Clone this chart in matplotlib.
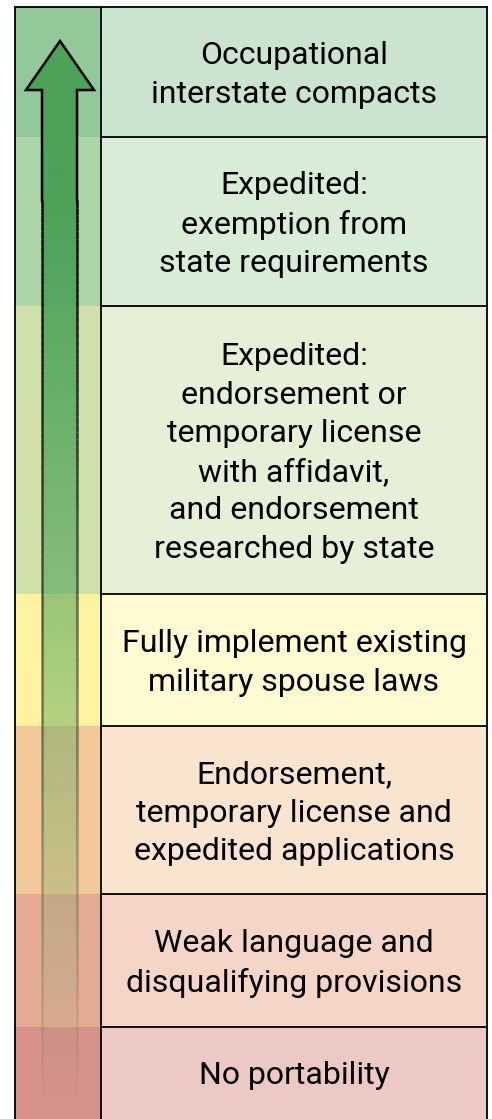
import matplotlib.pyplot as plt
import numpy as np
from matplotlib.patches import Rectangle, Polygon
from matplotlib.collections import LineCollection
from matplotlib.colors import to_rgb

# Tiers from best (top) to worst (bottom)
labels = [
    'Occupational\ninterstate compacts',
    'Expedited:\nexemption from\nstate requirements',
    'Expedited:\nendorsement or\ntemporary license\nwith affidavit,\nand endorsement\nresearched by state',
    'Fully implement existing\nmilitary spouse laws',
    'Endorsement,\ntemporary license and\nexpedited applications',
    'Weak language and\ndisqualifying provisions',
    'No portability',
]
strip_colors = ['#93c89a', '#acd5a8', '#cfe0a8', '#fdf3a0', '#f2c898', '#e4ab94', '#d6918a']
box_colors = ['#cae4d0', '#d8ecd8', '#e6f0d6', '#fefad2', '#f9e4d0', '#f4d5c8', '#ecc9c4']

# layout in pixels
W, H = 492, 1119
row_edges = [7, 137, 306, 594, 726, 894, 1027, 1119]
x_left, x_div, x_right = 15, 101, 487
arrow_color = '#4ca257'

fig = plt.figure(figsize=(W / 100, H / 100), dpi=100)
ax = fig.add_axes([0, 0, 1, 1])
ax.set_xlim(0, W)
ax.set_ylim(H, 0)
ax.axis('off')

for i, lab in enumerate(labels):
    y0, y1 = row_edges[i], row_edges[i + 1]
    ax.add_patch(Rectangle((x_left, y0), x_div - x_left, y1 - y0, color=strip_colors[i], lw=0, zorder=1))
    ax.add_patch(Rectangle((x_div, y0), x_right - x_div, y1 - y0, color=box_colors[i], lw=0, zorder=1))
    if i > 0:
        ax.plot([x_div, x_right], [y0, y0], color='black', lw=1.3, zorder=5)
    ax.text((x_div + x_right) / 2, (y0 + y1) / 2 + 3, lab, ha='center', va='center',
            fontsize=23, family='Roboto', linespacing=1.42, color='black', zorder=6)

# outer frame
ax.plot([x_left, x_left], [H + 5, row_edges[0]], color='black', lw=1.3, zorder=5)
ax.plot([x_left, x_right], [row_edges[0], row_edges[0]], color='black', lw=1.3, zorder=5)
ax.plot([x_right, x_right], [row_edges[0], H + 5], color='black', lw=1.3, zorder=5)
ax.plot([x_div, x_div], [row_edges[0], H + 5], color='black', lw=1.3, zorder=5)

# arrow with fading gradient
sx0, sx1 = 42, 77
hx0, hx1 = 26, 94
tip_y, base_y = 41, 90
tip_x = (hx0 + hx1) / 2
pts = [(sx0, H + 5), (sx0, base_y), (hx0, base_y), (tip_x, tip_y),
       (hx1, base_y), (sx1, base_y), (sx1, H + 5)]


def fade(y):
    return np.clip((1100 - y) / 900, 0, 1)


ys = np.linspace(tip_y, H, 400)
img = np.zeros((len(ys), 2, 4))
img[..., :3] = to_rgb(arrow_color)
img[..., 3] = fade(ys)[:, None]
arrow = Polygon(pts, closed=True, fc='none', ec='none')
ax.add_patch(arrow)
im = ax.imshow(img, extent=(hx0, hx1, H, tip_y), aspect='auto', zorder=3, interpolation='bilinear')
im.set_clip_path(arrow)
ax.set_xlim(0, W)
ax.set_ylim(H, 0)

# head outline drawn solid, shaft edges fade out
ax.plot([sx0, sx0, hx0, tip_x, hx1, sx1, sx1], [201, base_y, base_y, tip_y, base_y, base_y, 201],
        color='black', lw=1.8, zorder=4, solid_joinstyle='miter')
segs, alphas = [], []
for sx in (sx0, sx1):
    yv = np.linspace(200, H, 120)
    for k in range(len(yv) - 1):
        segs.append([(sx, yv[k]), (sx, yv[k + 1])])
        alphas.append(fade((yv[k] + yv[k + 1]) / 2))
cols = [(0, 0, 0, a) for a in alphas]
ax.add_collection(LineCollection(segs, colors=cols, linewidths=1.8, zorder=4, capstyle='butt'))

fig.savefig('out.png', dpi=100)
